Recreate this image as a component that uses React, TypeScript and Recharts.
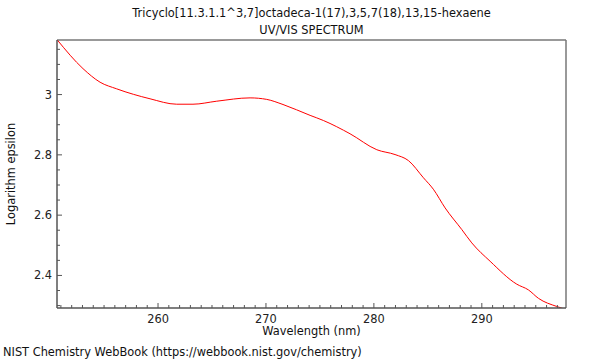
// UV/VIS 吸收光谱 — Tricyclo 化合物
// 数据从 NIST 图上读取，x 为波长(nm)，y 为 log(epsilon)

import { LineChart, Line, XAxis, YAxis, ReferenceLine } from 'recharts'

const wavelength = [
  250.67, 253.05, 254.63, 256.17, 259.26, 261.73, 263.24, 265.44, 268.53,
  270.07, 271.58, 274.09, 275.32, 277.79, 280.27, 281.96, 283.2,
  284.59, 285.51, 286.6, 288.15, 289.07, 290.77, 293.24, 294.32, 295.25,
  296.95, 297.72,
]
const logEpsilon = [
  3.181, 3.086, 3.041, 3.019, 2.986, 2.968, 2.968, 2.978, 2.989,
  2.984, 2.967, 2.931, 2.914, 2.87, 2.817, 2.801, 2.781,
  2.724, 2.686, 2.624, 2.552, 2.508, 2.447, 2.371, 2.352, 2.324,
  2.297, 2.288,
]

const xTicks = [
  251, 252, 253, 254, 255, 256, 257, 258, 259, 260, 261, 262, 263, 264, 265,
  266, 267, 268, 269, 270, 271, 272, 273, 274, 275, 276, 277, 278, 279, 280,
  281, 282, 283, 284, 285, 286, 287, 288, 289, 290, 291, 292, 293, 294, 295,
  296, 297,
]
const xMajor = [260, 270, 280, 290]
const yTicks = [
  2.3, 2.35, 2.4, 2.45, 2.5, 2.55, 2.6, 2.65, 2.7, 2.75, 2.8, 2.85, 2.9,
  2.95, 3, 3.05, 3.1, 3.15,
]
const yMajor = [2.4, 2.6, 2.8, 3]

const X_DOMAIN: [number, number] = [250.64, 297.8]
const Y_DOMAIN: [number, number] = [2.292, 3.181]

const data = wavelength.map((w, i) => ({ w, v: logEpsilon[i] }))

const FONT = '"DejaVu Sans", sans-serif'
const FS = 11.4
const AXIS = '#555'

function XTick({ x, y, payload }: any) {
  const major = xMajor.includes(payload.value)
  return (
    <g>
      <line x1={x} x2={x} y1={y} y2={y - (major ? 5 : 3)} stroke={AXIS} />
      {major && (
        <text x={x} y={y + 15} textAnchor="middle" fontSize={FS} fontFamily={FONT} fill="#222">
          {payload.value}
        </text>
      )}
    </g>
  )
}

function YTick({ x, y, payload }: any) {
  const major = yMajor.some(m => Math.abs(m - payload.value) < 1e-6)
  return (
    <g>
      <line x1={x} x2={x + (major ? 5 : 3)} y1={y} y2={y} stroke={AXIS} />
      {major && (
        <text x={x - 5} y={y + 4} textAnchor="end" fontSize={FS} fontFamily={FONT} fill="#222">
          {payload.value}
        </text>
      )}
    </g>
  )
}

const label = (style: React.CSSProperties): React.CSSProperties => ({
  position: 'absolute',
  fontFamily: FONT,
  fontSize: FS,
  lineHeight: '14px',
  color: '#111',
  whiteSpace: 'nowrap',
  ...style,
})

export default function App() {
  return (
    <div style={{ position: 'absolute', left: 0, top: 0, width: 600, height: 360, background: '#fff' }}>
      <LineChart
        width={600}
        height={360}
        data={data}
        margin={{ top: 40, right: 34, bottom: 0, left: 0 }}
      >
        <XAxis
          dataKey="w"
          type="number"
          domain={X_DOMAIN}
          ticks={xTicks}
          interval={0}
          allowDataOverflow
          height={52}
          tickSize={0}
          tickMargin={0}
          tick={<XTick />}
          axisLine={{ stroke: AXIS, strokeWidth: 1.5 }}
        />
        <YAxis
          type="number"
          domain={Y_DOMAIN}
          ticks={yTicks}
          interval={0}
          allowDataOverflow
          width={57}
          tickSize={0}
          tickMargin={0}
          tick={<YTick />}
          axisLine={{ stroke: AXIS, strokeWidth: 1.5 }}
        />
        <ReferenceLine y={Y_DOMAIN[1]} stroke="#999" strokeWidth={2} />
        <ReferenceLine x={X_DOMAIN[1]} stroke="#777" strokeWidth={1.5} />
        <Line
          type="monotone"
          dataKey="v"
          stroke="#ff0000"
          strokeWidth={1}
          dot={false}
          isAnimationActive={false}
        />
      </LineChart>

      <div style={label({ left: 0, width: 623, top: 6, textAlign: 'center' })}>
        Tricyclo[11.3.1.1^3,7]octadeca-1(17),3,5,7(18),13,15-hexaene
      </div>
      <div style={label({ left: 0, width: 623, top: 23, textAlign: 'center' })}>
        UV/VIS SPECTRUM
      </div>
      <div style={label({ left: 0, width: 623, top: 324, textAlign: 'center' })}>
        Wavelength (nm)
      </div>
      <div
        style={label({
          left: 11,
          top: 174,
          transform: 'translate(-50%, -50%) rotate(-90deg)',
        })}
      >
        Logarithm epsilon
      </div>
      <div style={label({ left: 3, top: 345 })}>
        NIST Chemistry WebBook (https://webbook.nist.gov/chemistry)
      </div>
    </div>
  )
}
